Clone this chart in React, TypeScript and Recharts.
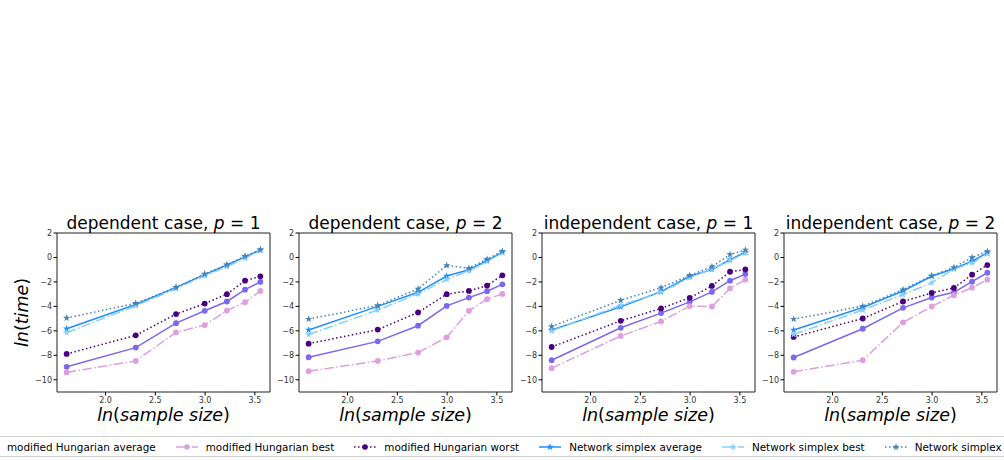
import { LineChart, Line, XAxis, YAxis, ReferenceArea, Symbols } from "recharts";

// ln(n) for n = 5, 10, 15, 20, 25, 30, 35
const lnSampleSize = [1.609, 2.303, 2.708, 2.996, 3.219, 3.401, 3.555];
const xTicks = [2.0, 2.5, 3.0, 3.5];
const yTicks = [-10, -8, -6, -4, -2, 0, 2];
const xDomain = [1.512, 3.652];
const yDomain = [-11, 2];

// dependent case, p = 1
const depP1MhAvg = [-8.94, -7.37, -5.37, -4.36, -3.6, -2.63, -2.0];
const depP1MhBest = [-9.4, -8.46, -6.12, -5.53, -4.34, -3.66, -2.74];
const depP1MhWorst = [-7.89, -6.37, -4.63, -3.77, -3.0, -1.9, -1.54];
const depP1NsAvg = [-5.83, -3.85, -2.45, -1.4, -0.62, 0.05, 0.6];
const depP1NsBest = [-6.15, -3.95, -2.55, -1.5, -0.75, -0.05, 0.55];
const depP1NsWorst = [-4.95, -3.75, -2.45, -1.35, -0.6, 0.1, 0.65];

// dependent case, p = 2
const depP2MhAvg = [-8.16, -6.86, -5.58, -3.96, -3.28, -2.76, -2.2];
const depP2MhBest = [-9.3, -8.46, -7.78, -6.53, -4.36, -3.41, -2.98];
const depP2MhWorst = [-7.05, -5.9, -4.5, -3.0, -2.74, -2.3, -1.46];
const depP2NsAvg = [-5.93, -4.0, -2.85, -1.52, -1.0, -0.27, 0.43];
const depP2NsBest = [-6.3, -4.3, -2.98, -1.79, -1.1, -0.33, 0.38];
const depP2NsWorst = [-5.04, -3.93, -2.57, -0.65, -0.87, -0.14, 0.51];

// independent case, p = 1
const indP1MhAvg = [-8.4, -5.75, -4.55, -3.63, -2.82, -1.9, -1.36];
const indP1MhBest = [-9.05, -6.42, -5.23, -3.98, -4.01, -2.52, -1.82];
const indP1MhWorst = [-7.32, -5.18, -4.17, -3.3, -2.33, -1.17, -0.98];
const indP1NsAvg = [-5.93, -4.04, -2.79, -1.54, -0.98, -0.19, 0.43];
const indP1NsBest = [-6.0, -3.9, -2.85, -1.65, -0.92, -0.24, 0.35];
const indP1NsWorst = [-5.64, -3.5, -2.47, -1.46, -0.76, 0.24, 0.62];

// independent case, p = 2
const indP2MhAvg = [-8.18, -5.83, -4.12, -3.28, -2.85, -1.98, -1.25];
const indP2MhBest = [-9.35, -8.4, -5.31, -4.01, -3.09, -2.47, -1.82];
const indP2MhWorst = [-6.5, -4.99, -3.6, -2.9, -2.49, -1.41, -0.62];
const indP2NsAvg = [-5.93, -4.09, -2.74, -1.54, -0.92, -0.3, 0.38];
const indP2NsBest = [-6.29, -4.3, -3.04, -2.06, -0.95, -0.46, 0.3];
const indP2NsWorst = [-5.04, -3.98, -2.63, -1.49, -0.81, 0.0, 0.49];

const DASHDOT = "9.6 2.4 1.5 2.4";
const DOTTED = "1.5 2.5";
const FONT = "'DejaVu Sans', sans-serif";

const seriesStyles = [
  { key: "mhAvg", name: "modified Hungarian average", color: "#7b68ee", dash: undefined, marker: "circle" },
  { key: "mhBest", name: "modified Hungarian best", color: "#dda0dd", dash: DASHDOT, marker: "circle" },
  { key: "mhWorst", name: "modified Hungarian worst", color: "#4b0082", dash: DOTTED, marker: "circle" },
  { key: "nsAvg", name: "Network simplex average", color: "#1e90ff", dash: undefined, marker: "star" },
  { key: "nsBest", name: "Network simplex best", color: "#87cefa", dash: DASHDOT, marker: "star" },
  { key: "nsWorst", name: "Network simplex worst", color: "#4682b4", dash: DOTTED, marker: "star" },
];

const buildRows = (cols: number[][]) =>
  lnSampleSize.map((x, i) => {
    const row: Record<string, number> = { x };
    seriesStyles.forEach((s, j) => {
      row[s.key] = cols[j][i];
    });
    return row;
  });

const panels = [
  { title: "dependent case, ", p: "1", plotLeft: 57, rows: buildRows([depP1MhAvg, depP1MhBest, depP1MhWorst, depP1NsAvg, depP1NsBest, depP1NsWorst]) },
  { title: "dependent case, ", p: "2", plotLeft: 299, rows: buildRows([depP2MhAvg, depP2MhBest, depP2MhWorst, depP2NsAvg, depP2NsBest, depP2NsWorst]) },
  { title: "independent case, ", p: "1", plotLeft: 542, rows: buildRows([indP1MhAvg, indP1MhBest, indP1MhWorst, indP1NsAvg, indP1NsBest, indP1NsWorst]) },
  { title: "independent case, ", p: "2", plotLeft: 784, rows: buildRows([indP2MhAvg, indP2MhBest, indP2MhWorst, indP2NsAvg, indP2NsBest, indP2NsWorst]) },
];

const PLOT_W = 213;
const PLOT_TOP = 233;
const PLOT_BOTTOM = 392;
const CHART_TOP = 200;
const CHART_H = 220;
const Y_AXIS_W = 30;
const LEFT_PAD = 10;

const starDot = (color: string) => (props: any) => {
  const { cx, cy, index } = props;
  if (cx == null || cy == null) return <g key={`s-${index}`} />;
  return <Symbols key={`s-${index}`} cx={cx} cy={cy} type="star" size={17} fill={color} stroke="none" />;
};

const fmtY = (v: number) => (v < 0 ? `\u2212${Math.abs(v)}` : `${v}`);

function Panel({ rows, plotLeft }: { rows: Record<string, number>[]; plotLeft: number }) {
  const left = plotLeft - Y_AXIS_W - LEFT_PAD;
  const width = PLOT_W + Y_AXIS_W + LEFT_PAD + 4;
  return (
    <div style={{ position: "absolute", left, top: CHART_TOP, width, height: CHART_H }}>
      <LineChart
        width={width}
        height={CHART_H}
        data={rows}
        margin={{ top: PLOT_TOP - CHART_TOP, right: 4, bottom: CHART_TOP + CHART_H - PLOT_BOTTOM - 20, left: LEFT_PAD }}
      >
        <XAxis
          type="number"
          dataKey="x"
          domain={xDomain}
          ticks={xTicks}
          allowDataOverflow
          height={20}
          axisLine={false}
          tickSize={3.5}
          tickMargin={1.5}
          tickLine={{ stroke: "#000" }}
          tick={{ fontSize: 8, fill: "#333", fontFamily: FONT }}
          tickFormatter={(v: number) => v.toFixed(1)}
        />
        <YAxis
          type="number"
          domain={yDomain}
          ticks={yTicks}
          allowDataOverflow
          width={Y_AXIS_W}
          axisLine={false}
          tickSize={3.5}
          tickMargin={1.5}
          tickLine={{ stroke: "#000" }}
          tick={{ fontSize: 8, fill: "#333", fontFamily: FONT }}
          tickFormatter={fmtY}
        />
        {seriesStyles.map((s) => (
          <Line
            key={s.key}
            dataKey={s.key}
            name={s.name}
            type="linear"
            stroke={s.color}
            strokeWidth={1.5}
            strokeDasharray={s.dash}
            dot={s.marker === "circle" ? { r: 2.9, fill: s.color, stroke: "none", strokeWidth: 0 } : starDot(s.color)}
            activeDot={false}
            isAnimationActive={false}
          />
        ))}
        <ReferenceArea
          x1={xDomain[0]}
          x2={xDomain[1]}
          y1={yDomain[0]}
          y2={yDomain[1]}
          fill="none"
          stroke="#222"
          strokeWidth={1}
          ifOverflow="visible"
        />
      </LineChart>
    </div>
  );
}

function LegendMarker({ color, dash, marker }: { color: string; dash?: string; marker: string }) {
  return (
    <svg width={22} height={10} style={{ display: "block", flex: "none" }}>
      <line x1={0} y1={5} x2={22} y2={5} stroke={color} strokeWidth={1.5} strokeDasharray={dash} />
      {marker === "circle" ? (
        <circle cx={11} cy={5} r={2.8} fill={color} />
      ) : (
        <Symbols cx={11} cy={5} type="star" size={17} fill={color} />
      )}
    </svg>
  );
}

export default function App() {
  return (
    <div
      style={{
        position: "absolute",
        left: 0,
        top: 0,
        width: 1004,
        height: 460,
        overflow: "hidden",
        background: "#fff",
        fontFamily: FONT,
      }}
    >
      {panels.map((p, i) => (
        <Panel key={i} rows={p.rows} plotLeft={p.plotLeft} />
      ))}
      <svg width={1004} height={460} style={{ position: "absolute", left: 0, top: 0, pointerEvents: "none" }}>
        {panels.map((p, i) => {
          const cx = p.plotLeft + PLOT_W / 2;
          return (
            <g key={i} fontFamily={FONT} fill="#000">
              <text x={cx} y={229} fontSize={17} textAnchor="middle">
                {p.title}
                <tspan fontStyle="italic">p</tspan>
                {" = "}
                {p.p}
              </text>
              <text x={cx} y={421} fontSize={17.5} textAnchor="middle">
                <tspan fontStyle="italic">ln</tspan>(<tspan fontStyle="italic">sample size</tspan>)
              </text>
            </g>
          );
        })}
        <text
          transform={`translate(28, ${(PLOT_TOP + PLOT_BOTTOM) / 2}) rotate(-90)`}
          fontSize={17.5}
          textAnchor="middle"
          fontFamily={FONT}
          fill="#000"
        >
          <tspan fontStyle="italic">ln</tspan>(<tspan fontStyle="italic">time</tspan>)
        </text>
      </svg>
      <div
        style={{
          position: "absolute",
          left: 0,
          top: 436,
          width: 1004,
          height: 19,
          borderTop: "1px solid #d0d0d0",
          borderBottom: "1px solid #d0d0d0",
          overflow: "hidden",
        }}
      >
        <div
          style={{
            position: "absolute",
            left: -23,
            top: 0,
            height: 19,
            display: "flex",
            alignItems: "center",
            whiteSpace: "nowrap",
            fontSize: 10.4,
            color: "#000",
          }}
        >
          {seriesStyles.map((s) => (
            <div key={s.key} style={{ display: "flex", alignItems: "center", marginRight: 20 }}>
              <LegendMarker color={s.color} dash={s.dash} marker={s.marker} />
              <span style={{ marginLeft: 8 }}>{s.name}</span>
            </div>
          ))}
        </div>
      </div>
    </div>
  );
}
